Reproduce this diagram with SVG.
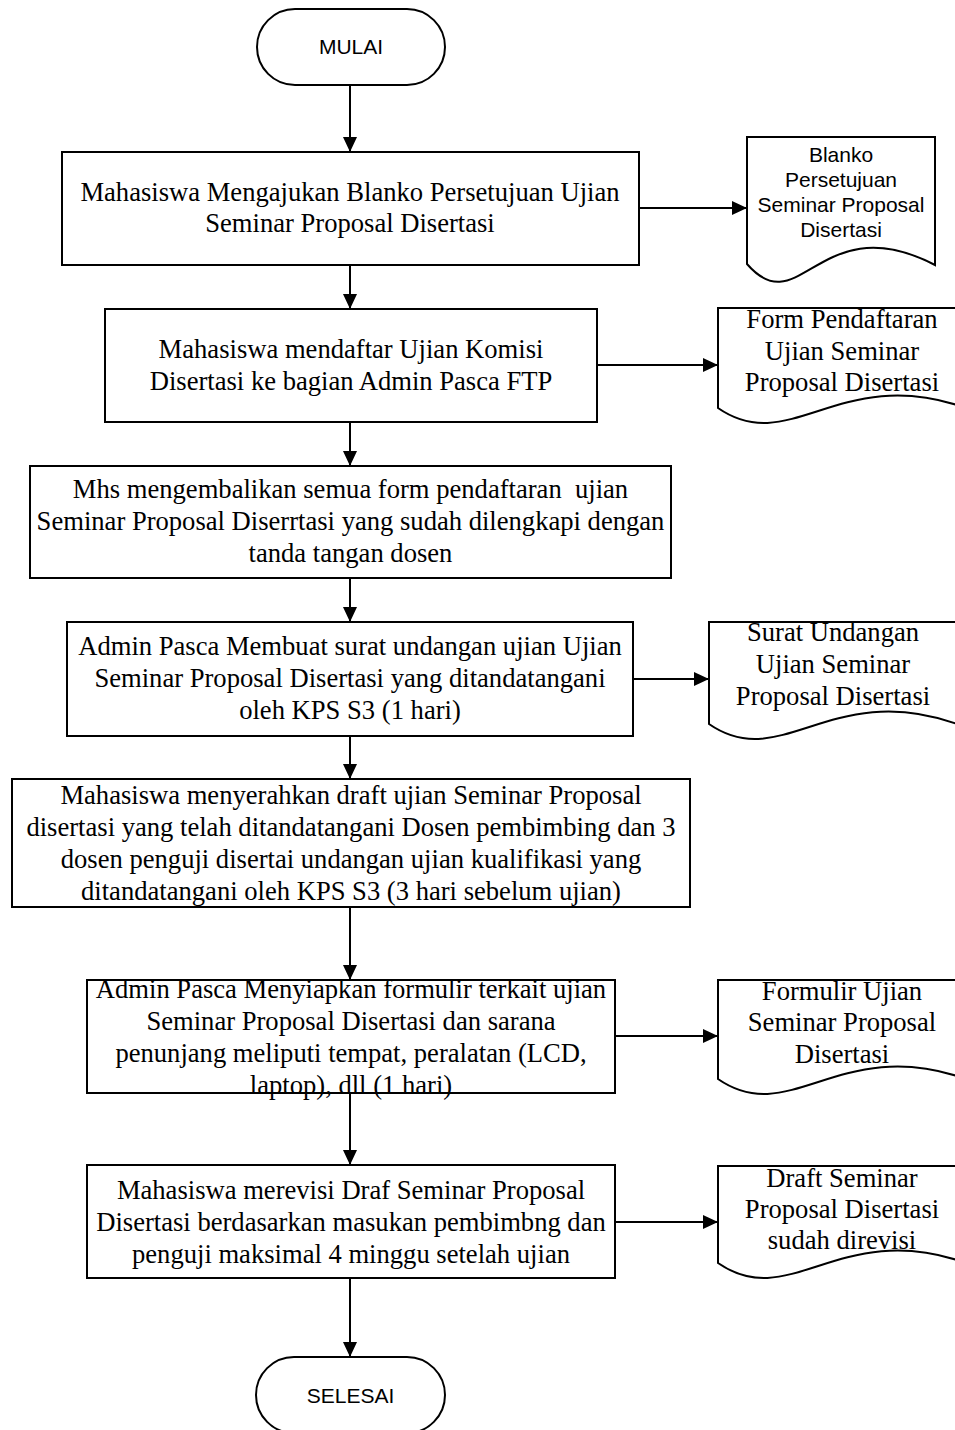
<svg xmlns="http://www.w3.org/2000/svg" width="955" height="1430" viewBox="0 0 955 1430">
<style>
.sh{fill:#fff;stroke:#000;stroke-width:2}
.ln{fill:none;stroke:#000;stroke-width:2}
.t{font-family:"Liberation Serif","Times New Roman",serif;font-size:26.6px;fill:#000;text-anchor:middle}
.a{font-family:"Liberation Sans",Arial,sans-serif;font-size:21px;fill:#000;text-anchor:middle}
</style>
<defs>
<marker id="ar" markerUnits="userSpaceOnUse" markerWidth="16" markerHeight="14" refX="15" refY="7" orient="auto">
<path d="M0,0 L15,7 L0,14 Z" fill="#000"/>
</marker>
</defs>
<rect width="955" height="1430" fill="#fff"/>
<g id="connectors" class="ln" marker-end="url(#ar)">
<line x1="350" y1="85" x2="350" y2="152"/>
<line x1="350" y1="265" x2="350" y2="309"/>
<line x1="350" y1="422" x2="350" y2="466"/>
<line x1="350" y1="578" x2="350" y2="622"/>
<line x1="350" y1="736" x2="350" y2="779"/>
<line x1="350" y1="907" x2="350" y2="980"/>
<line x1="350" y1="1093" x2="350" y2="1165"/>
<line x1="350" y1="1278" x2="350" y2="1357"/>
<line x1="639" y1="208" x2="747" y2="208"/>
<line x1="597" y1="365" x2="718" y2="365"/>
<line x1="633" y1="679" x2="709" y2="679"/>
<line x1="615" y1="1036" x2="718" y2="1036"/>
<line x1="615" y1="1222" x2="718" y2="1222"/>
</g>
<g id="mulai">
<rect class="sh" x="257" y="9" width="188" height="76" rx="38" ry="38"/>
<text class="a" x="351" y="54">MULAI</text>
</g>
<g id="box1">
<rect class="sh" x="62" y="152" width="577" height="113"/>
<text class="t" x="350" y="201">Mahasiswa Mengajukan Blanko Persetujuan Ujian</text>
<text class="t" x="350" y="232">Seminar Proposal Disertasi</text>
</g>
<g id="doc1">
<path class="sh" d="M747,137 H935 V265 C820,205 800,325 747,264 Z"/>
<text class="a" x="841" y="162">Blanko</text>
<text class="a" x="841" y="187">Persetujuan</text>
<text class="a" x="841" y="212">Seminar Proposal</text>
<text class="a" x="841" y="237">Disertasi</text>
</g>
<g id="box2">
<rect class="sh" x="105" y="309" width="492" height="113"/>
<text class="t" x="351" y="358">Mahasiswa mendaftar Ujian Komisi</text>
<text class="t" x="351" y="390">Disertasi ke bagian Admin Pasca FTP</text>
</g>
<g id="doc2">
<path class="sh" d="M718,308 H966 V408 C840,363 790,458 718,408 Z"/>
<text class="t" x="842" y="328">Form Pendaftaran</text>
<text class="t" x="842" y="360">Ujian Seminar</text>
<text class="t" x="842" y="391">Proposal Disertasi</text>
</g>
<g id="box3">
<rect class="sh" x="30" y="466" width="641" height="112"/>
<text class="t" x="350.5" y="498" xml:space="preserve">Mhs mengembalikan semua form pendaftaran  ujian</text>
<text class="t" x="350.5" y="530">Seminar Proposal Diserrtasi yang sudah dilengkapi dengan</text>
<text class="t" x="350.5" y="562">tanda tangan dosen</text>
</g>
<g id="box4">
<rect class="sh" x="67" y="622" width="566" height="114"/>
<text class="t" x="350" y="655">Admin Pasca Membuat surat undangan ujian Ujian</text>
<text class="t" x="350" y="687">Seminar Proposal Disertasi yang ditandatangani</text>
<text class="t" x="350" y="719">oleh KPS S3 (1 hari)</text>
</g>
<g id="doc3">
<path class="sh" d="M709,622 H957 V724 C831,679 781,774 709,724 Z"/>
<text class="t" x="833" y="641">Surat Undangan</text>
<text class="t" x="833" y="673">Ujian Seminar</text>
<text class="t" x="833" y="705">Proposal Disertasi</text>
</g>
<g id="box5">
<rect class="sh" x="12" y="779" width="678" height="128"/>
<text class="t" x="351" y="804">Mahasiswa menyerahkan draft ujian Seminar Proposal</text>
<text class="t" x="351" y="836">disertasi yang telah ditandatangani Dosen pembimbing dan 3</text>
<text class="t" x="351" y="868">dosen penguji disertai undangan ujian kualifikasi yang</text>
<text class="t" x="351" y="900">ditandatangani oleh KPS S3 (3 hari sebelum ujian)</text>
</g>
<g id="box6">
<rect class="sh" x="87" y="980" width="528" height="113"/>
<text class="t" x="351" y="998">Admin Pasca Menyiapkan formulir terkait ujian</text>
<text class="t" x="351" y="1030">Seminar Proposal Disertasi dan sarana</text>
<text class="t" x="351" y="1062">penunjang meliputi tempat, peralatan (LCD,</text>
<text class="t" x="351" y="1094">laptop), dll (1 hari)</text>
</g>
<g id="doc5">
<path class="sh" d="M718,980 H966 V1079 C840,1034 790,1129 718,1079 Z"/>
<text class="t" x="842" y="1000">Formulir Ujian</text>
<text class="t" x="842" y="1031">Seminar Proposal</text>
<text class="t" x="842" y="1063">Disertasi</text>
</g>
<g id="box7">
<rect class="sh" x="87" y="1165" width="528" height="113"/>
<text class="t" x="351" y="1199">Mahasiswa merevisi Draf Seminar Proposal</text>
<text class="t" x="351" y="1231">Disertasi berdasarkan masukan pembimbng dan</text>
<text class="t" x="351" y="1263">penguji maksimal 4 minggu setelah ujian</text>
</g>
<g id="doc6">
<path class="sh" d="M718,1166 H966 V1263 C840,1218 790,1313 718,1263 Z"/>
<text class="t" x="842" y="1187">Draft Seminar</text>
<text class="t" x="842" y="1218">Proposal Disertasi</text>
<text class="t" x="842" y="1249">sudah direvisi</text>
</g>
<g id="selesai">
<rect class="sh" x="256" y="1357" width="189" height="76" rx="38" ry="38"/>
<text class="a" x="350.5" y="1403">SELESAI</text>
</g>
</svg>
